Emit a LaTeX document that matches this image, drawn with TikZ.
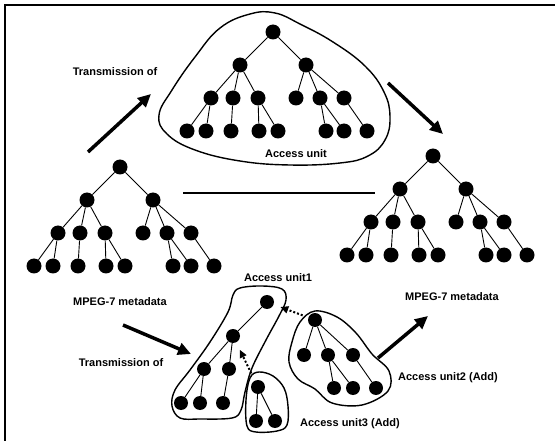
\documentclass[tikz,border=0pt]{standalone}
\usepackage{fontspec}
\setmainfont{Liberation Sans}
\usetikzlibrary{arrows.meta}
\tikzset{
    mynode/.style = {circle, fill=black, inner sep=0pt, minimum size=15pt},
    mynodes/.style = {circle, fill=black, inner sep=0pt, minimum size=14pt},
    edgen/.style = {-, line width=0.9pt, black},
    bigarrow/.style = {line width=3.5pt, -{Triangle[length=13pt,width=12pt]}},
    dotarrow/.style = {line width=2pt, dash pattern=on 2pt off 2pt, -{Triangle[length=8pt,width=7pt]}},
    unitline/.style = {line width=1.4pt},
    lbl/.style = {font=\fontsize{11}{12}\selectfont\bfseries, inner sep=0pt}
}

\begin{document}
\begin{tikzpicture}[x=1pt,y=-1pt]
\path[use as bounding box] (0,0) rectangle (555,441);
% frame
\draw[line width=1.8pt] (5,441) -- (5,5) -- (555,5);
%
% three whole trees
\foreach \tree/\rx/\ry in {L/120/167, T/273/32, R/433/156} {
  \node[mynode] at (\rx,\ry) (\tree-r) {};
  \node[mynode] at (\rx-33,\ry+33) (\tree-a) {};
  \node[mynode] at (\rx+33,\ry+33) (\tree-b) {};
  \node[mynode] at (\rx-62,\ry+66) (\tree-a1) {};
  \node[mynode] at (\rx-40,\ry+66) (\tree-a2) {};
  \node[mynode] at (\rx-15,\ry+66) (\tree-a3) {};
  \node[mynode] at (\rx+23,\ry+66) (\tree-b1) {};
  \node[mynode] at (\rx+47,\ry+66) (\tree-b2) {};
  \node[mynode] at (\rx+71,\ry+66) (\tree-b3) {};
  \node[mynode] at (\rx-86,\ry+99) (\tree-a11) {};
  \node[mynode] at (\rx-67,\ry+99) (\tree-a12) {};
  \node[mynode] at (\rx-42,\ry+99) (\tree-a21) {};
  \node[mynode] at (\rx-14,\ry+99) (\tree-a31) {};
  \node[mynode] at (\rx+5,\ry+99) (\tree-a32) {};
  \node[mynode] at (\rx+53,\ry+99) (\tree-b21) {};
  \node[mynode] at (\rx+71,\ry+99) (\tree-b22) {};
  \node[mynode] at (\rx+94,\ry+99) (\tree-b31) {};
  \foreach \p/\c in {r/a, r/b, a/a1, a/a2, a/a3, b/b1, b/b2, b/b3,
                     a1/a11, a1/a12, a2/a21, a3/a31, a3/a32, b2/b21, b2/b22, b3/b31}
    \draw[edgen] (\tree-\p) -- (\tree-\c);
}
%
% access unit 1
\node[mynodes] at (267,302) (u1-r) {};
\node[mynodes] at (233,336) (u1-a) {};
\node[mynodes] at (204,369) (u1-b) {};
\node[mynodes] at (229,369) (u1-c) {};
\node[mynodes] at (181,403) (u1-d) {};
\node[mynodes] at (200,403) (u1-e) {};
\node[mynodes] at (223,403) (u1-f) {};
% access unit 2
\node[mynodes] at (315,320) (u2-r) {};
\node[mynodes] at (304,355) (u2-a) {};
\node[mynodes] at (328,355) (u2-b) {};
\node[mynodes] at (353,355) (u2-c) {};
\node[mynodes] at (334,388) (u2-d) {};
\node[mynodes] at (353,388) (u2-e) {};
\node[mynodes] at (376,388) (u2-f) {};
% access unit 3
\node[mynodes] at (258,387) (u3-r) {};
\node[mynodes] at (256,421) (u3-a) {};
\node[mynodes] at (275,421) (u3-b) {};
%
\draw[edgen] (u1-r) -- (u1-a);
\draw[edgen] (u1-a) -- (u1-b);
\draw[edgen] (u1-a) -- (u1-c);
\draw[edgen] (u1-b) -- (u1-d);
\draw[edgen] (u1-b) -- (u1-e);
\draw[edgen] (u1-c) -- (u1-f);
\draw[edgen] (u2-r) -- (u2-a);
\draw[edgen] (u2-r) -- (u2-b);
\draw[edgen] (u2-r) -- (u2-c);
\draw[edgen] (u2-b) -- (u2-d);
\draw[edgen] (u2-b) -- (u2-e);
\draw[edgen] (u2-c) -- (u2-f);
\draw[edgen] (u3-r) -- (u3-a);
\draw[edgen] (u3-r) -- (u3-b);
%
% outlines
\draw[unitline] plot[smooth cycle, tension=0.7] coordinates {(159,115) (172,90) (195,57) (220,28) (250,14) (275,13) (300,24) (333,42) (365,66) (384,92) (390,117) (385,140) (368,156) (340,163) (290,165) (240,161) (195,150) (167,134)};
\draw[unitline] plot[smooth cycle, tension=0.6] coordinates {(240,288) (262,286) (282,289) (286,300) (279,316) (266,340) (252,368) (245,392) (241,410) (232,418) (200,419) (180,418) (172,406) (175,390) (190,370) (210,342) (228,312) (233,295)};
\draw[unitline] plot[smooth cycle, tension=0.6] coordinates {(300,322) (315,311) (337,317) (356,333) (372,354) (389,371) (388,391) (362,405) (332,403) (315,389) (298,379) (289,362) (292,342)};
\draw[unitline] plot[smooth cycle, tension=0.6] coordinates {(250,378) (259,372) (273,376) (284,388) (288,406) (287,425) (277,431) (256,432) (247,426) (246,400)};
%
% middle line
\coordinate (ml1) at (183,193);
\coordinate (ml2) at (375,193);
\draw[line width=2.2pt] (ml1) -- (ml2);
%
% big arrows
\coordinate (ar1s) at (88,152);
\coordinate (ar1e) at (151,94);
\coordinate (ar2s) at (388,83);
\coordinate (ar2e) at (443,134);
\coordinate (ar3s) at (123,325);
\coordinate (ar3e) at (191,354);
\coordinate (ar4s) at (378,358);
\coordinate (ar4e) at (428,316);
\draw[bigarrow] (ar1s) -- (ar1e);
\draw[bigarrow] (ar2s) -- (ar2e);
\draw[bigarrow] (ar3s) -- (ar3e);
\draw[bigarrow] (ar4s) -- (ar4e);
%
% dotted arrows
\draw[dotarrow, shorten >=7pt, shorten <=6pt] (u2-r) -- (u1-r);
\draw[dotarrow, shorten >=8pt, shorten <=8pt] (u3-r) -- (u1-a);
%
% labels
\node[lbl] at (115,72) (lbltransa) {Transmission of};
\node[lbl] at (296,154) (lblunit) {Access unit};
\node[lbl] at (120,302) (lblmpega) {MPEG-7 metadata};
\node[lbl] at (452,297) (lblmpegb) {MPEG-7 metadata};
\node[lbl] at (121,363) (lbltransb) {Transmission of};
\node[lbl] at (278,278) (lblunita) {Access unit1};
\node[lbl] at (448,378) (lblunitb) {Access unit2 (Add)};
\node[lbl] at (350,424) (lblunitc) {Access unit3 (Add)};
\end{tikzpicture}
\end{document}
